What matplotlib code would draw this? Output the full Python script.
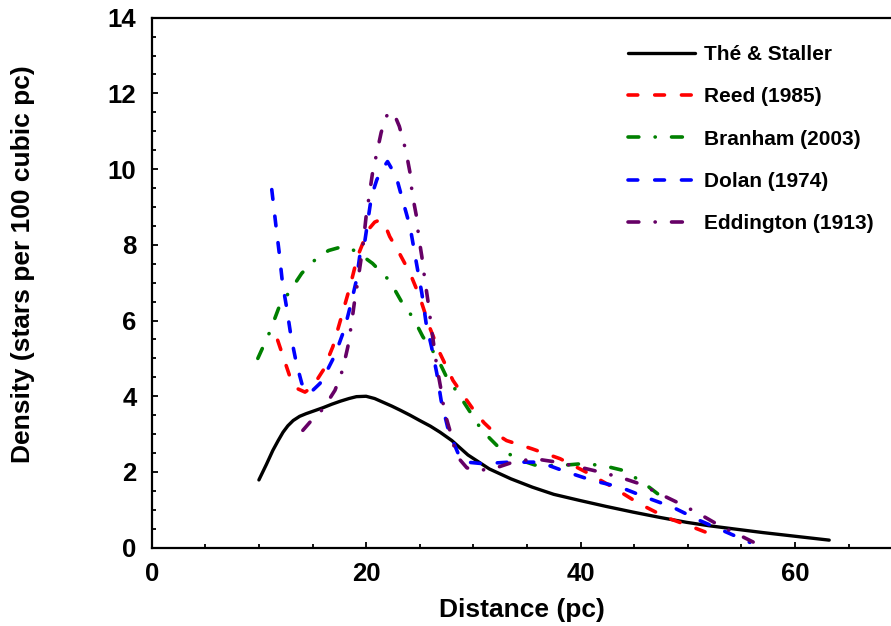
import matplotlib
matplotlib.use("Agg")
import matplotlib.pyplot as plt
from matplotlib.ticker import MultipleLocator

plt.rcParams['font.family'] = ['Liberation Sans', 'DejaVu Sans']
plt.rcParams['font.weight'] = 'bold'

# ---- data ----
the_x = [10, 10.7, 11.3, 11.8, 12.25, 12.7, 13.2, 13.8, 14.4, 15.2, 16, 16.8, 17.6, 18.4, 19.1,
         20, 20.8, 21.6, 22.4, 23.2, 24.1, 25, 26.0, 26.9, 28, 29.5,
         31.5, 33.5, 35.5, 37.5, 39.9, 42.4, 44.9, 47.4, 49.9, 52, 54.2, 57, 60.4, 63.2]
the_y = [1.79, 2.2, 2.57, 2.83, 3.05, 3.22, 3.36, 3.47, 3.54, 3.62, 3.7, 3.79, 3.87, 3.94, 3.99,
         4.0, 3.94, 3.84, 3.74, 3.63, 3.5, 3.36, 3.21, 3.05, 2.83, 2.45,
         2.08, 1.82, 1.6, 1.41, 1.25, 1.09, 0.94, 0.8, 0.67, 0.58, 0.5, 0.4, 0.29, 0.2]

reed_x = [11.75, 12.9, 13.6, 14.3, 15.0, 16.0, 16.9, 17.7, 18.5, 19.2, 20.2, 20.8, 21.3, 21.8,
          22.2, 23.1, 24.1, 25.0, 25.9, 26.9, 28.1, 29.0, 30.0, 31.0, 32.0, 33.1, 35.5, 38.1,
          40.5, 43.0, 45.5, 48.0, 50.5, 52.5]
reed_y = [5.48, 4.51, 4.2, 4.11, 4.25, 4.69, 5.31, 6.1, 6.9, 7.69, 8.4, 8.6, 8.66, 8.5,
          8.22, 7.78, 7.25, 6.63, 5.84, 5.13, 4.42, 4.05, 3.65, 3.3, 3.03, 2.83, 2.61, 2.35,
          2.0, 1.6, 1.16, 0.8, 0.54, 0.32]

bran_x = [9.9, 11.0, 11.9, 12.8, 14.0, 15.4, 16.5, 17.5, 18.3, 19.1, 20.6, 22.2, 23.4, 24.4,
          25.3, 26.6, 27.5, 28.6, 29.6, 30.8, 32.2, 34.0, 35.9, 38.1, 40.2, 42.1, 44.0, 45.8, 47.4]
bran_y = [5.0, 5.69, 6.37, 6.74, 7.25, 7.65, 7.85, 7.93, 7.93, 7.82, 7.51, 7.05, 6.45, 6.07,
          5.57, 5.04, 4.51, 4.07, 3.63, 3.1, 2.7, 2.35, 2.17, 2.17, 2.22, 2.17, 2.04, 1.73, 1.38]

dolan_x = [11.2, 11.6, 11.9, 12.2, 12.6, 13.0, 13.5, 14.0, 14.4, 15.0, 15.7, 16.4, 17.1, 18.0,
           18.6, 19.1, 19.4, 19.9, 20.5, 21.0, 21.5, 22.0, 22.8, 23.4, 24.1, 24.7, 25.2, 25.6,
           26.1, 26.6, 27.0, 27.6, 28.2, 28.6, 29.4, 30.9, 33.4, 36.2, 38.7, 41.2, 43.7, 46.1,
           48.6, 51.1, 53.3, 55.8]
dolan_y = [9.46, 8.48, 7.78, 6.99, 6.32, 5.57, 4.87, 4.34, 4.11, 4.15, 4.34, 4.7, 5.09, 5.79,
           6.46, 7.07, 7.69, 8.13, 9.28, 9.72, 10.0, 10.2, 9.81, 9.19, 8.48, 7.51, 6.72, 5.93,
           5.31, 4.6, 3.89, 3.19, 2.75, 2.48, 2.26, 2.22, 2.26, 2.26, 2.0, 1.77, 1.6, 1.33,
           1.07, 0.72, 0.45, 0.14]

edd_x = [14.1, 14.9, 16.0, 17.1, 17.8, 18.3, 18.6, 18.9, 19.2, 19.7, 20.0, 20.3, 20.6, 21.0,
         21.4, 21.8, 22.2, 22.7, 23.1, 23.7, 24.1, 24.3, 24.7, 24.9, 25.2, 25.5, 25.8, 26.1,
         26.6, 27.0, 27.3, 28.0, 28.4, 29.4, 30.3, 31.8, 33.7, 35.7, 37.8, 39.9, 41.8, 43.7,
         45.5, 47.4, 49.3, 51.1, 53.0, 54.9, 56.6]
edd_y = [3.1, 3.36, 3.67, 4.16, 4.69, 5.31, 5.84, 6.46, 6.99, 7.95, 8.75, 9.32, 9.9, 10.43,
         10.96, 11.35, 11.53, 11.4, 11.13, 10.5, 9.9, 9.35, 8.75, 8.22, 7.69, 7.03, 6.46, 5.79,
         4.78, 4.16, 3.6, 2.92, 2.44, 2.11, 2.04, 2.08, 2.26, 2.35, 2.26, 2.13, 2.0, 1.86,
         1.69, 1.42, 1.16, 0.89, 0.58, 0.32, 0.08]

labels = ['Thé & Staller', 'Reed (1985)', 'Branham (2003)', 'Dolan (1974)', 'Eddington (1913)']
colors = ['black', '#ff0000', '#008000', '#0000ff', '#660066']

W, H = 891, 626
fig = plt.figure(figsize=(W / 100, H / 100), dpi=100)
x0, xr = 151.7, 10.72
ax_top, ax_bot = 17.7, 547.7
ax = fig.add_axes([x0 / W, (H - ax_bot) / H, 70 * xr / W, (ax_bot - ax_top) / H])

lw = 2.6
dash = (0, (2.7, 4.7))
dashdot = (0, (3.0, 4.5, 0.05, 4.5))
series = [(the_x, the_y, '-'), (reed_x, reed_y, dash), (bran_x, bran_y, dashdot),
          (dolan_x, dolan_y, dash), (edd_x, edd_y, dashdot)]
for (xs, ys, ls), lab, c in zip(series, labels, colors):
    ax.plot(xs, ys, color=c, lw=lw if ls != '-' else 2.4, linestyle=ls, label=lab,
            dash_capstyle='round', solid_capstyle='round', solid_joinstyle='round',
            dash_joinstyle='round')

ax.set_xlim(0, 70)
ax.set_ylim(0, 14)
ax.xaxis.set_major_locator(MultipleLocator(20))
ax.xaxis.set_minor_locator(MultipleLocator(5))
ax.yaxis.set_major_locator(MultipleLocator(2))
ax.yaxis.set_minor_locator(MultipleLocator(0.5))
ax.tick_params(which='both', direction='in', top=False, right=False, width=1.3)
ax.tick_params(which='major', length=4.5, labelsize=18.5)
ax.tick_params(axis='y', which='major', pad=11)
ax.tick_params(axis='x', which='major', pad=10)
ax.tick_params(which='minor', length=3)
for lab in ax.get_xticklabels() + ax.get_yticklabels():
    lab.set_fontweight('bold')
for s in ax.spines.values():
    s.set_linewidth(1.6)

ax.set_xlabel('Distance (pc)', fontsize=19, fontweight='bold', va='center')
ax.xaxis.set_label_coords((522 - x0) / (70 * xr), (ax_bot - 610) / (ax_bot - ax_top))
ax.set_ylabel('Density (stars per 100 cubic pc)', fontsize=19, fontweight='bold', va='center')
ax.yaxis.set_label_coords((23.3 - x0) / (70 * xr), (ax_bot - 264) / (ax_bot - ax_top))

leg = fig.legend(loc='upper left', bbox_to_anchor=(628 / W, 1 - 45 / H), frameon=False,
                 prop={'size': 15, 'weight': 'bold'}, handlelength=3.2, handletextpad=0.45,
                 labelspacing=1.12, borderpad=0, borderaxespad=0)

fig.savefig('out.png', dpi=100)
